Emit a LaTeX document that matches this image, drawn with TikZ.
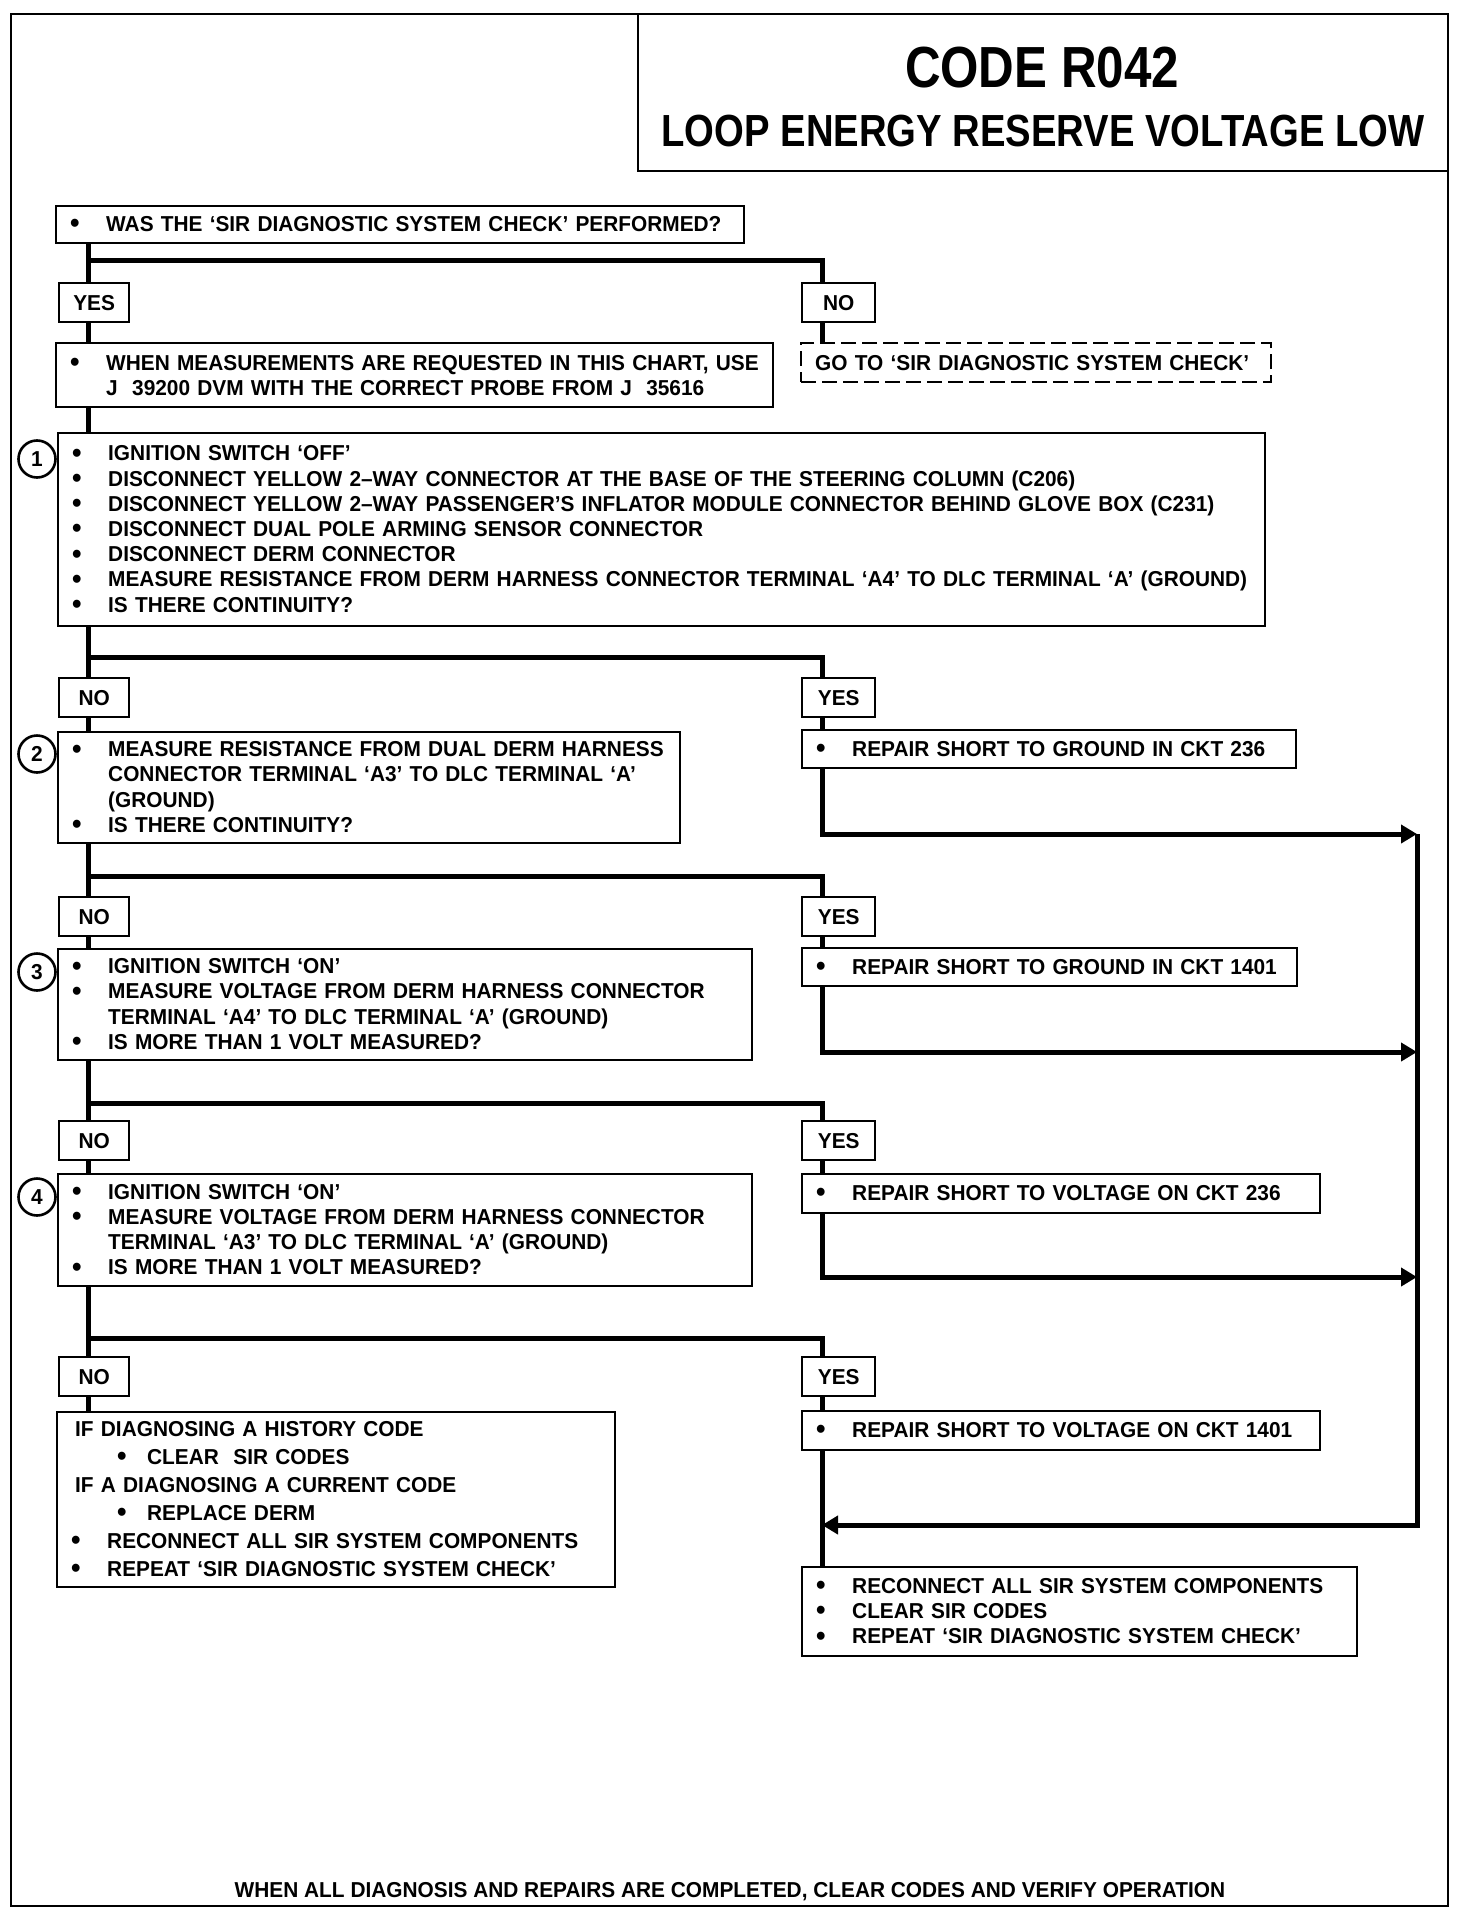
\documentclass[tikz,border=0pt]{standalone}
\usepackage{fontspec}
\setmainfont{Liberation Sans}[FakeStretch=0.965]
\newfontfamily\headfont{Liberation Sans}[FakeStretch=0.85]
\usepackage{tikz}
\usetikzlibrary{arrows.meta,positioning}
\newlength{\bulw}
\setlength{\bulw}{18pt}
\newcommand{\bodyfont}{\fontsize{10.8}{12.6}\selectfont\bfseries}
\newcommand{\bdot}{\raisebox{-0.7pt}{\scalebox{1.3}{\textbullet}}}
\newcommand{\bl}[1]{\mbox{\makebox[\bulw][l]{\bdot}#1}}
\newcommand{\cl}[1]{\mbox{\hspace*{\bulw}#1}}
\newcommand{\sbl}[1]{\mbox{\hspace*{23pt}\makebox[15pt][l]{\bdot}#1}}
\tikzset{
  mainbox/.style 2 args={draw, line width=1.2pt, anchor=north west,
                  align=left, font=\bodyfont, inner xsep=7pt, inner ysep=0pt,
                  text width=#1, minimum height=#2},
  dashbox/.style 2 args={mainbox={#1}{#2}, dash pattern=on 7.5pt off 3pt},
  lbl/.style    ={draw, line width=1.2pt, anchor=north west, font=\bodyfont,
                  minimum width=35pt, minimum height=19.5pt, inner sep=0pt},
  rlbl/.style   ={lbl, minimum width=36.5pt},
  numc/.style   ={circle, draw, line width=1.3pt, minimum size=18.5pt,
                  inner sep=0pt, font=\bodyfont},
  frame/.style  ={line width=1.3pt},
  flow/.style   ={line width=2.5pt},
  flowarr/.style={flow, -{Triangle[length=8pt,width=9pt]}},
}

\begin{document}
\begin{tikzpicture}[x=0.5pt,y=-0.5pt]
  \useasboundingbox (0,0) rectangle (1472,1916);
  \draw[frame] (11,14) rectangle (1448,1906);
  \draw[frame] (638,14) rectangle (1448,171);
  \node[anchor=base, inner sep=0pt, font=\headfont\bfseries\fontsize{29}{32}\selectfont] (code) at (1042,88) {CODE R042};
  \node[anchor=base, inner sep=0pt, font=\headfont\bfseries\fontsize{22.5}{26}\selectfont] (title) at (1043,147) {LOOP ENERGY RESERVE VOLTAGE LOW};

  \coordinate (tr) at (88,0);
  \coordinate (br) at (822,0);
  \coordinate (j1) at (88,260);
  \coordinate (j2) at (88,657);
  \coordinate (j3) at (88,876);
  \coordinate (j4) at (88,1103);
  \coordinate (j5) at (88,1338);
  \coordinate (m1) at (1417,834);
  \coordinate (m2) at (1417,1052);
  \coordinate (m3) at (1417,1277);
  \coordinate (m4) at (1417,1525);

  \node[mainbox={330pt}{18.5pt}] (qa) at (55,205) {\bl{WAS THE `SIR DIAGNOSTIC SYSTEM CHECK' PERFORMED?}};
  \node[lbl] (yes1) at (58,282) {YES};
  \node[rlbl] (no1) at (801,282) {NO};
  \node[mainbox={344.5pt}{32pt}] (inst) at (55,342) {\bl{WHEN MEASUREMENTS ARE REQUESTED IN THIS CHART, USE}\\
    \cl{J\ \ 39200 DVM WITH THE CORRECT PROBE FROM J\ \ 35616}};
  \node[dashbox={221pt}{19.5pt}] (goto) at (800,342) {GO TO `SIR DIAGNOSTIC SYSTEM CHECK'};

  \node[mainbox={589.5pt}{96.5pt}] (s1) at (57,432) {\bl{IGNITION SWITCH `OFF'}\\
    \bl{DISCONNECT YELLOW 2--WAY CONNECTOR AT THE BASE OF THE STEERING COLUMN (C206)}\\
    \bl{DISCONNECT YELLOW 2--WAY PASSENGER'S INFLATOR MODULE CONNECTOR BEHIND GLOVE BOX (C231)}\\
    \bl{DISCONNECT DUAL POLE ARMING SENSOR CONNECTOR}\\
    \bl{DISCONNECT DERM CONNECTOR}\\
    \bl{MEASURE RESISTANCE FROM DERM HARNESS CONNECTOR TERMINAL `A4' TO DLC TERMINAL `A' (GROUND)}\\
    \bl{IS THERE CONTINUITY?}};
  \node[numc] (c1) at (37,459) {1};

  \node[lbl] (no2) at (58,677) {NO};
  \node[rlbl] (yes2) at (801,677) {YES};
  \node[mainbox={297pt}{55.5pt}] (s2) at (57,731) {\bl{MEASURE RESISTANCE FROM DUAL DERM HARNESS}\\
    \cl{CONNECTOR TERMINAL `A3' TO DLC TERMINAL `A'}\\
    \cl{(GROUND)}\\
    \bl{IS THERE CONTINUITY?}};
  \node[numc] (c2) at (37,754) {2};
  \node[mainbox={233pt}{19pt}] (rp1) at (801,729) {\bl{REPAIR SHORT TO GROUND IN CKT 236}};

  \node[lbl] (no3) at (58,896) {NO};
  \node[rlbl] (yes3) at (801,896) {YES};
  \node[mainbox={333pt}{55.5pt}] (s3) at (57,948) {\bl{IGNITION SWITCH `ON'}\\
    \bl{MEASURE VOLTAGE FROM DERM HARNESS CONNECTOR}\\
    \cl{TERMINAL `A4' TO DLC TERMINAL `A' (GROUND)}\\
    \bl{IS MORE THAN 1 VOLT MEASURED?}};
  \node[numc] (c3) at (37,972) {3};
  \node[mainbox={233.5pt}{19pt}] (rp2) at (801,947) {\bl{REPAIR SHORT TO GROUND IN CKT 1401}};

  \node[lbl] (no4) at (58,1120) {NO};
  \node[rlbl] (yes4) at (801,1120) {YES};
  \node[mainbox={333pt}{56pt}] (s4) at (57,1173) {\bl{IGNITION SWITCH `ON'}\\
    \bl{MEASURE VOLTAGE FROM DERM HARNESS CONNECTOR}\\
    \cl{TERMINAL `A3' TO DLC TERMINAL `A' (GROUND)}\\
    \bl{IS MORE THAN 1 VOLT MEASURED?}};
  \node[numc] (c4) at (37,1197) {4};
  \node[mainbox={245pt}{19.5pt}] (rp3) at (801,1173) {\bl{REPAIR SHORT TO VOLTAGE ON CKT 236}};

  \node[lbl] (no5) at (58,1356) {NO};
  \node[rlbl] (yes5) at (801,1356) {YES};
  \node[mainbox={265pt}{87.5pt}, font=\fontsize{10.8}{14}\selectfont\bfseries] (fn) at (56,1411) {\mbox{\hspace*{2pt}IF DIAGNOSING A HISTORY CODE}\\
    \sbl{CLEAR\ \ SIR CODES}\\
    \mbox{\hspace*{2pt}IF A DIAGNOSING A CURRENT CODE}\\
    \sbl{REPLACE DERM}\\
    \bl{RECONNECT ALL SIR SYSTEM COMPONENTS}\\
    \bl{REPEAT `SIR DIAGNOSTIC SYSTEM CHECK'}};
  \node[mainbox={245pt}{19.5pt}] (rp4) at (801,1410) {\bl{REPAIR SHORT TO VOLTAGE ON CKT 1401}};
  \node[mainbox={263.5pt}{44.5pt}] (fy) at (801,1566) {\bl{RECONNECT ALL SIR SYSTEM COMPONENTS}\\
    \bl{CLEAR SIR CODES}\\
    \bl{REPEAT `SIR DIAGNOSTIC SYSTEM CHECK'}};

  \node[anchor=base, inner sep=0pt, font=\bodyfont] (foot) at (730,1897) {WHEN ALL DIAGNOSIS AND REPAIRS ARE COMPLETED, CLEAR CODES AND VERIFY OPERATION};

  \draw[flow] (qa.south -| tr) -- (yes1.north -| tr);
  \draw[flow] (j1) -| (no1.north -| br);
  \draw[flow] (yes1.south -| tr) -- (inst.north -| tr);
  \draw[flow] (no1.south -| br) -- (goto.north -| br);
  \draw[flow] (inst.south -| tr) -- (s1.north -| tr);
  \draw[flow] (s1.south -| tr) -- (no2.north -| tr);
  \draw[flow] (j2) -| (yes2.north -| br);
  \draw[flow] (no2.south -| tr) -- (s2.north -| tr);
  \draw[flow] (yes2.south -| br) -- (rp1.north -| br);
  \draw[flowarr] (rp1.south -| br) |- (m1);
  \draw[flow] (s2.south -| tr) -- (no3.north -| tr);
  \draw[flow] (j3) -| (yes3.north -| br);
  \draw[flow] (no3.south -| tr) -- (s3.north -| tr);
  \draw[flow] (yes3.south -| br) -- (rp2.north -| br);
  \draw[flowarr] (rp2.south -| br) |- (m2);
  \draw[flow] (s3.south -| tr) -- (no4.north -| tr);
  \draw[flow] (j4) -| (yes4.north -| br);
  \draw[flow] (no4.south -| tr) -- (s4.north -| tr);
  \draw[flow] (yes4.south -| br) -- (rp3.north -| br);
  \draw[flowarr] (rp3.south -| br) |- (m3);
  \draw[flow] (s4.south -| tr) -- (no5.north -| tr);
  \draw[flow] (j5) -| (yes5.north -| br);
  \draw[flow] (no5.south -| tr) -- (fn.north -| tr);
  \draw[flow] (yes5.south -| br) -- (rp4.north -| br);
  \draw[flow] (rp4.south -| br) -- (fy.north -| br);
  \draw[flowarr] (m1) -- (m4) -- (m4 -| br);
\end{tikzpicture}
\end{document}
